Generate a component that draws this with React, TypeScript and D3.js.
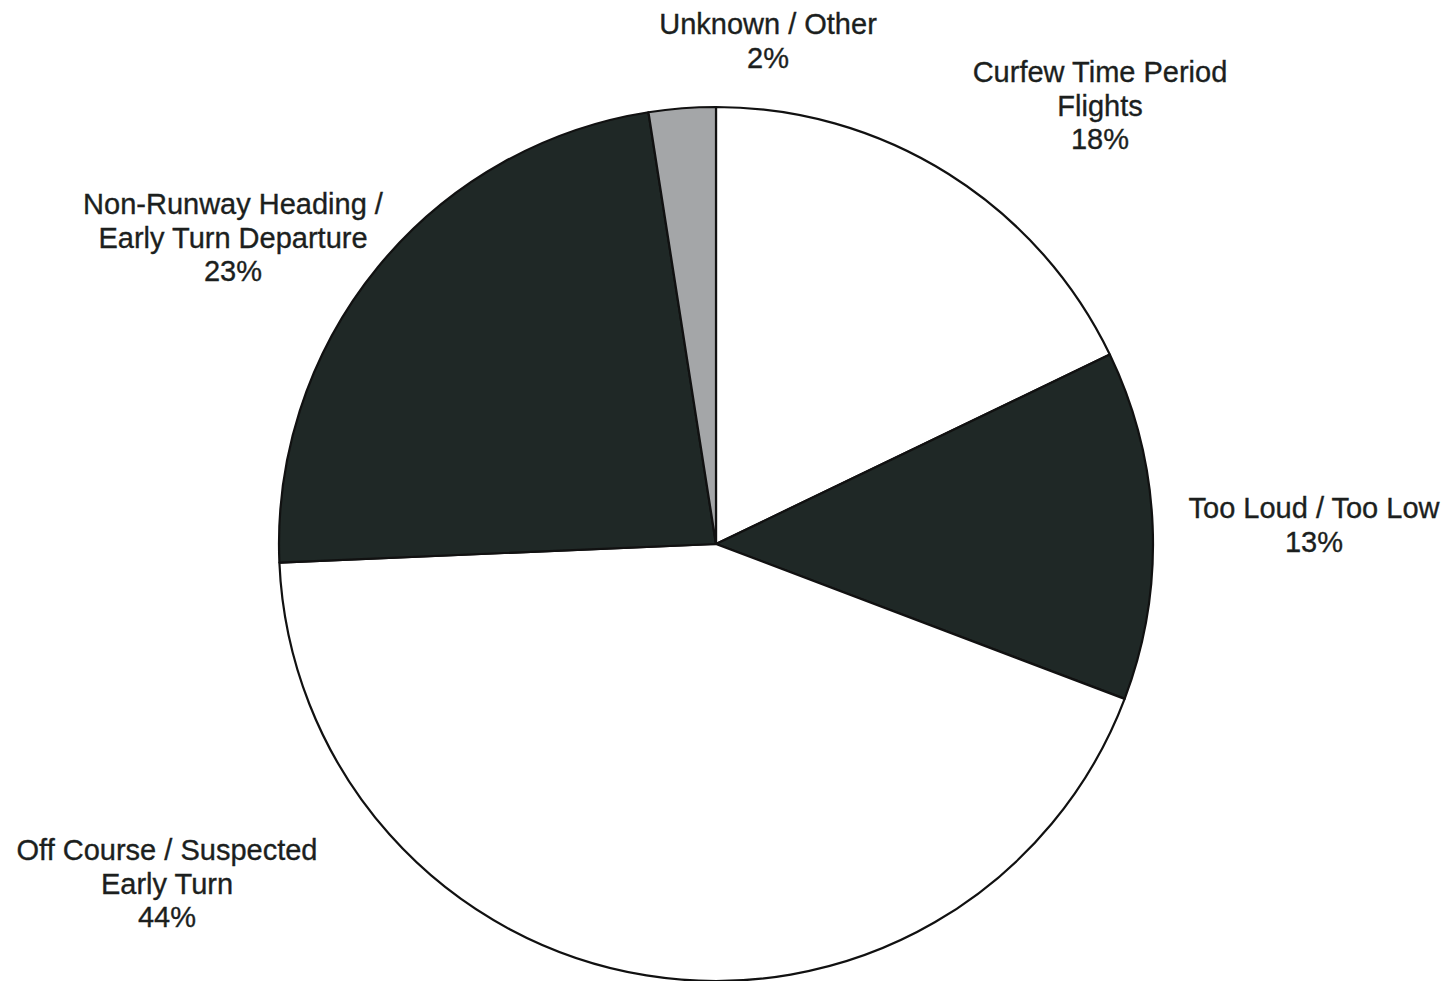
import React from "react";
import * as d3 from "d3";

const categories = [
  "Curfew Time Period Flights",
  "Too Loud / Too Low",
  "Off Course / Suspected Early Turn",
  "Non-Runway Heading / Early Turn Departure",
  "Unknown / Other",
];
const values = [17.86, 12.9, 43.55, 23.2, 2.47];
const labelLines = [
  ["Curfew Time Period", "Flights"],
  ["Too Loud / Too Low"],
  ["Off Course / Suspected", "Early Turn"],
  ["Non-Runway Heading /", "Early Turn Departure"],
  ["Unknown / Other"],
];
const percentLabels = ["18%", "13%", "44%", "23%", "2%"];

// layout (label anchor centres of first line)
const labelAnchors = [
  [1100, 72],
  [1314, 508],
  [167, 850],
  [233, 204],
  [768, 24],
];
const sliceColors = ["#ffffff", "#1f2826", "#ffffff", "#1f2826", "#a4a6a8"];

const W = 1450;
const H = 981;
const CX = 716;
const CY = 544;
const R = 437;
const FONT = 29;
const LINE = 33.7;

export default function App() {
  const data = categories.map((c, i) => ({ c, v: values[i], i }));
  const pie = d3
    .pie<any>()
    .sort(null)
    .value((d: any) => d.v)
    .startAngle(0)
    .endAngle(2 * Math.PI);
  const arcs = pie(data);
  const arc = d3.arc<any>().innerRadius(0).outerRadius(R);

  return (
    <svg
      width={W}
      height={H}
      style={{ position: "absolute", left: 0, top: 0, background: "#fff" }}
    >
      <rect x={0} y={0} width={W} height={H} fill="#fff" />
      <g transform={`translate(${CX},${CY})`}>
        {arcs.map((a, i) => (
          <path
            key={i}
            d={arc(a) as string}
            fill={sliceColors[i]}
            stroke="#111"
            strokeWidth={2.2}
            strokeLinejoin="round"
          />
        ))}
      </g>
      <g
        fontFamily="Arial, 'Liberation Sans', sans-serif"
        fontSize={FONT}
        fill="#1c1f1e"
        stroke="#1c1f1e"
        strokeWidth={0.35}
        textAnchor="middle"
      >
        {categories.map((c, i) => {
          const lines = [...labelLines[i], percentLabels[i]];
          const [x, y] = labelAnchors[i];
          return (
            <text key={c} x={x} y={y} dominantBaseline="central">
              {lines.map((l, j) => (
                <tspan key={j} x={x} y={y + j * LINE}>
                  {l}
                </tspan>
              ))}
            </text>
          );
        })}
      </g>
    </svg>
  );
}
